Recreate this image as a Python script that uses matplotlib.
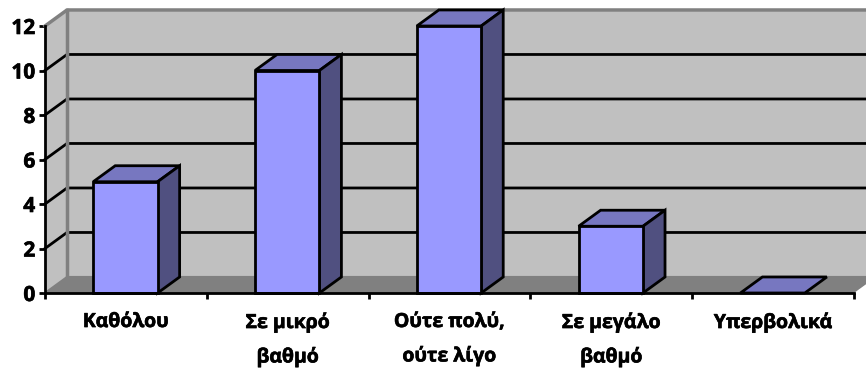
import matplotlib
matplotlib.use("Agg")
import matplotlib.pyplot as plt
import matplotlib.patheffects as pe
from matplotlib.patches import Polygon

plt.rcParams['font.family'] = ['Open Sans', 'DejaVu Sans']

categories = ["Καθόλου", "Σε μικρό\nβαθμό", "Ούτε πολύ,\nούτε λίγο", "Σε μεγάλο\nβαθμό", "Υπερβολικά"]
values = [5, 10, 12, 3, 0]
yticks = [0, 2, 4, 6, 8, 10, 12]

# fake 3d depth, in data units
dx = 0.136
dy = 0.72
bar_w = 0.398

front = "#9999ff"
top = "#7777c0"
side = "#505080"
wall = "#c0c0c0"
floor = "#808080"

W, H = 866, 369
fig = plt.figure(figsize=(W / 100, H / 100), dpi=100)
ax = fig.add_axes([45 / W, (H - 293) / H, 809 / W, 267 / H])
ax.set_xlim(0, 5)
ax.set_ylim(0, 12)


def poly(pts, fc, ec="none", lw=0, z=1):
    ax.add_patch(Polygon(pts, closed=True, facecolor=fc, edgecolor=ec, linewidth=lw,
                         zorder=z, clip_on=False, joinstyle="miter"))


# walls and floor
poly([(dx, dy), (5.5, dy), (5.5, 12 + dy), (dx, 12 + dy)], wall)
poly([(0, 0), (dx, dy), (dx, 12 + dy), (0, 12)], wall)
poly([(0, 0), (5, 0), (5 + dx, dy), (5.5, dy), (dx, dy)], floor)

# grid lines go round the side wall and along the back
for v in yticks[1:-1]:
    ax.plot([0, dx, 5.5], [v, v + dy, v + dy], color="black", lw=2, zorder=2,
            clip_on=False, solid_joinstyle="miter")

# wall borders
ax.plot([0, dx, 5.5], [12, 12 + dy, 12 + dy], color=floor, lw=2.5, zorder=2, clip_on=False)
ax.plot([dx, dx], [dy, 12 + dy], color=floor, lw=2.5, zorder=2, clip_on=False)
ax.plot([0, dx, 5.5], [0, dy, dy], color=floor, lw=1.5, zorder=2, clip_on=False)

# bars
for i, v in enumerate(values):
    x0 = i + 0.497 - bar_w / 2
    x1 = i + 0.497 + bar_w / 2
    kw = dict(ec="black", lw=2, z=3 + i)
    poly([(x0, v), (x1, v), (x1 + dx, v + dy), (x0 + dx, v + dy)], top, **kw)
    if v > 0:
        poly([(x1, 0), (x1 + dx, dy), (x1 + dx, v + dy), (x1, v)], side, **kw)
        poly([(x0, 0), (x1, 0), (x1, v), (x0, v)], front, **kw)

for s in ["top", "right"]:
    ax.spines[s].set_visible(False)
for s in ["left", "bottom"]:
    ax.spines[s].set_linewidth(2)
    ax.spines[s].set_zorder(20)

ax.set_yticks(yticks)
ylabels = ax.set_yticklabels([str(v) for v in yticks], fontsize=15, fontweight="bold")
ax.tick_params(axis="y", length=4, width=2, pad=3)

ax.set_xticks(range(6))
ax.set_xticklabels([])
ax.tick_params(axis="x", which="major", length=4, width=2)
ax.set_xticks([i + 0.5 for i in range(5)], minor=True)
xlabels = ax.set_xticklabels(categories, minor=True, fontsize=14, fontweight="bold", linespacing=1.84)
ax.tick_params(axis="x", which="minor", length=0, pad=13.7)

# the installed weight is a bit light, thicken the glyphs
for t in list(ylabels) + list(xlabels):
    t.set_path_effects([pe.withStroke(linewidth=0.45, foreground="black")])

fig.savefig("out.png", dpi=100)
